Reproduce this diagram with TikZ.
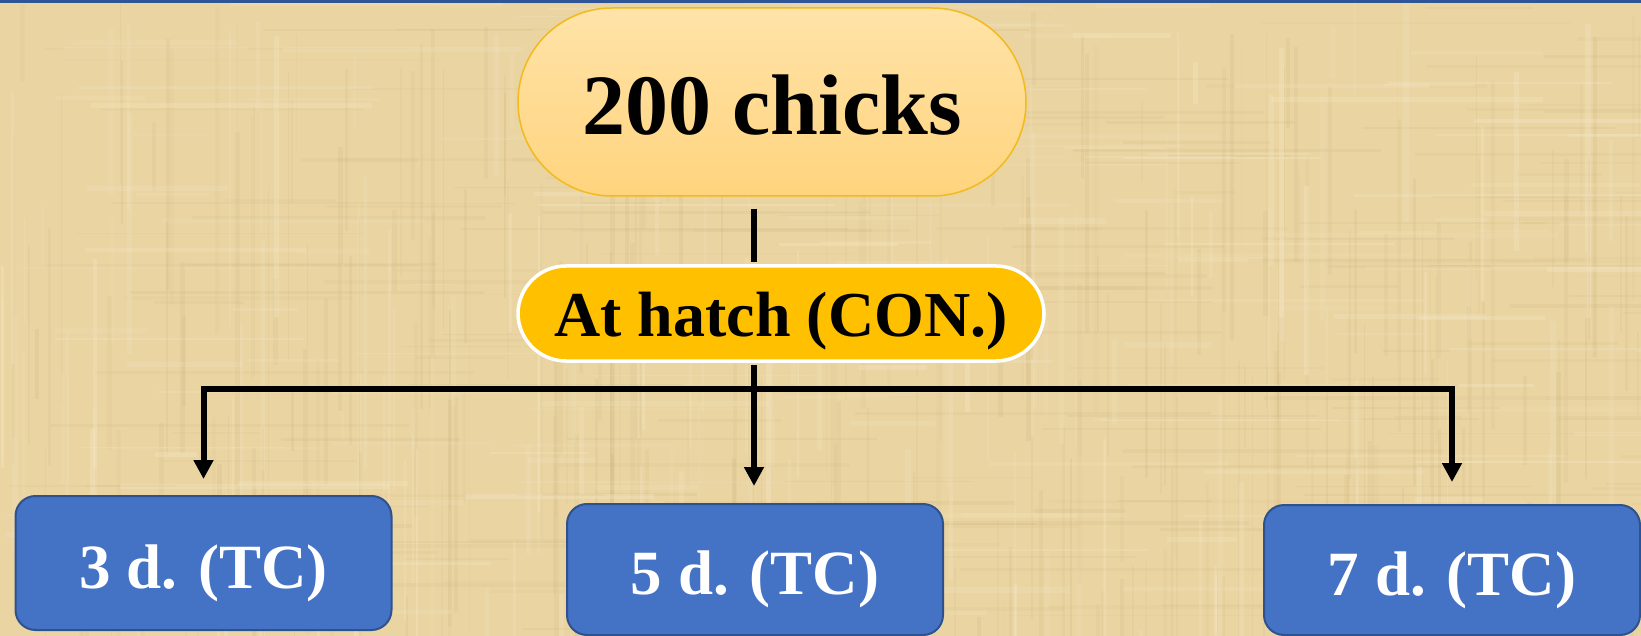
\documentclass[tikz,border=0pt]{standalone}
\usepackage{fontspec}
\setmainfont{Liberation Serif}
\usetikzlibrary{arrows.meta}

\definecolor{paper}{HTML}{E9D4A2}
\definecolor{paperdark}{HTML}{C9AD74}
\definecolor{paperlight}{HTML}{F7EACB}
\definecolor{frameblue}{HTML}{2F5597}
\definecolor{peachtop}{HTML}{FFE3A8}
\definecolor{peachbot}{HTML}{FFD47E}
\definecolor{peachline}{HTML}{F2BA1A}
\definecolor{amber}{HTML}{FFC000}
\definecolor{boxblue}{HTML}{4472C4}
\definecolor{boxline}{HTML}{2F528F}

\tikzset{
  rootpill/.style={draw=peachline, line width=1.5pt, top color=peachtop,
    bottom color=peachbot, rounded corners=94pt, minimum width=508pt,
    minimum height=188pt, inner sep=0pt, text height=66pt, text depth=0pt,
    font=\fontsize{86pt}{86pt}\selectfont\bfseries},
  stagepill/.style={draw=white, line width=3.5pt, fill=amber,
    rounded corners=48pt, minimum width=526pt, minimum height=95pt,
    inner sep=0pt, text height=47pt, text depth=0pt,
    font=\fontsize{64pt}{64pt}\selectfont\bfseries},
  groupbox/.style={draw=boxline, line width=2pt, fill=boxblue, text=white,
    rounded corners=20pt, minimum width=376pt, inner sep=0pt,
    text height=50pt, text depth=0pt,
    font=\fontsize{63pt}{63pt}\selectfont\bfseries},
  link/.style={line width=6pt, black},
  feed/.style={link, -{Triangle[length=19pt,width=19pt]}},
}

\begin{document}
\begin{tikzpicture}[x=1pt,y=-1pt]
\useasboundingbox (0,0) rectangle (1641,636);

% papyrus background
\fill[paper] (0,0) rectangle (1641,636);
\pgfmathsetseed{42}
\foreach \i in {1,...,260}{
  \pgfmathsetmacro\px{rnd*1641}
  \pgfmathsetmacro\py{rnd*636}
  \pgfmathsetmacro\pl{60+rnd*320}
  \pgfmathsetmacro\pw{1+rnd*4}
  \pgfmathsetmacro\po{0.05+rnd*0.12}
  \draw[paperdark, line width=\pw pt, opacity=\po] (\px,\py) -- ++(0,\pl);
}
\foreach \i in {1,...,180}{
  \pgfmathsetmacro\px{rnd*1641}
  \pgfmathsetmacro\py{rnd*636}
  \pgfmathsetmacro\pl{60+rnd*360}
  \pgfmathsetmacro\pw{1+rnd*3}
  \pgfmathsetmacro\po{0.05+rnd*0.1}
  \draw[paperdark, line width=\pw pt, opacity=\po] (\px,\py) -- ++(\pl,0);
}
\foreach \i in {1,...,160}{
  \pgfmathsetmacro\px{rnd*1641}
  \pgfmathsetmacro\py{rnd*636}
  \pgfmathsetmacro\pl{40+rnd*260}
  \pgfmathsetmacro\pw{1.5+rnd*4}
  \pgfmathsetmacro\po{0.1+rnd*0.2}
  \draw[paperlight, line width=\pw pt, opacity=\po] (\px,\py) -- ++(0,\pl);
  \draw[paperlight, line width=\pw pt, opacity=\po] (\py*2.5,\px*0.38) -- ++(\pl,0);
}

% thin frame line along the top edge
\fill[frameblue] (0,0) rectangle (1641,3.5);

% nodes
\node[rootpill] (chicks) at (772,102) {200 chicks};
\node[stagepill] (hatch) at (781,313.5) {At hatch (CON.)};
\node[groupbox, minimum height=134pt] (d3) at (203.5,563) {3 d. (TC)};
\node[groupbox, minimum height=131pt] (d5) at (755,569.5) {5 d. (TC)};
\node[groupbox, minimum height=130pt] (d7) at (1452,570) {7 d. (TC)};

% trunk and branches
\coordinate (split) at (754,389);
\draw[link] ([yshift=-12pt]chicks.south -| split) -- ([yshift=2pt]hatch.north -| split);
\draw[link] ([yshift=-2pt]hatch.south -| split) -- (split);
\draw[feed] (split) -| ([yshift=16pt]d3.north);
\draw[feed] (split) -- ([yshift=17pt]d5.north -| split);
\draw[feed] (split) -| ([yshift=22pt]d7.north);
\end{tikzpicture}
\end{document}
